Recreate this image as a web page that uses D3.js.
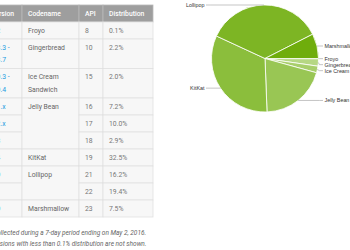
<!DOCTYPE html>
<html>
<head>
<meta charset="utf-8">
<script src="https://cdn.jsdelivr.net/npm/d3@7"></script>
<style>
  html, body { margin: 0; padding: 0; background: #fff; overflow: hidden; }
</style>
</head>
<body>
<div id="chart"></div>
<script>
// table data (one entry per row)
const versions = ["2.2", "2.3.3 -\n2.3.7", "4.0.3 -\n4.0.4", "4.1.x", "4.2.x", "4.3", "4.4", "5.0", "5.1", "6.0"];
const codenames = ["Froyo", "Gingerbread", "Ice Cream\nSandwich", "Jelly Bean", "Jelly Bean", "Jelly Bean",
                   "KitKat", "Lollipop", "Lollipop", "Marshmallow"];
const apis = [8, 10, 15, 16, 17, 18, 19, 21, 22, 23];
const distribution = [0.1, 2.2, 2.0, 7.2, 10.0, 2.9, 32.5, 16.2, 19.4, 7.5];
const headers = ["Version", "Codename", "API", "Distribution"];
const pieColors = ["#c4df9b", "#b6d783", "#a8ce6b", "#99c654", "#8bbe3c", "#7db524", "#6fad0c"];
const notes = ["Data collected during a 7-day period ending on May 2, 2016.",
               "Any versions with less than 0.1% distribution are not shown."];

const width = 350, height = 250;

const svg = d3.select("#chart").append("svg")
  .attr("width", width).attr("height", height);

// ---- table ----
const colX = [-15, 22, 79, 103, 153];
const headTop = 5, headH = 17, rowH = 17, lineH = 12.5;

const rows = versions.map((v, i) => ({
  version: v, codename: codenames[i], api: apis[i], dist: distribution[i],
  lines: Math.max(v.split("\n").length, codenames[i].split("\n").length)
}));
let y = headTop + headH;
rows.forEach(r => { r.y0 = y; r.h = rowH + lineH * (r.lines - 1); y += r.h; r.y1 = y; });

const table = svg.append("g").attr("font-family", "Roboto, 'Noto Sans', sans-serif").attr("font-size", 6.8);

// header
table.selectAll("rect.head").data(headers).join("rect")
  .attr("x", (d, i) => colX[i]).attr("y", headTop)
  .attr("width", (d, i) => colX[i + 1] - colX[i]).attr("height", headH)
  .attr("fill", "#9e9e9e").attr("stroke", "#b8b8b8").attr("stroke-width", 0.8);
table.selectAll("text.head").data(headers).join("text")
  .attr("x", (d, i) => colX[i] + 6).attr("y", headTop + headH / 2 + 2.4)
  .attr("fill", "#fff").attr("font-weight", 500).text(d => d);

// merged codename groups
const groups = [];
rows.forEach(r => {
  const last = groups[groups.length - 1];
  if (last && last.name === r.codename) { last.y1 = r.y1; }
  else groups.push({ name: r.codename, y0: r.y0, y1: r.y1 });
});

const cellFill = "#f7f7f7", cellStroke = "#e0e0e0";

function cellRects(data, col) {
  table.append("g").selectAll("rect").data(data).join("rect")
    .attr("x", colX[col]).attr("y", d => d.y0)
    .attr("width", colX[col + 1] - colX[col]).attr("height", d => d.y1 - d.y0)
    .attr("fill", cellFill).attr("stroke", cellStroke).attr("stroke-width", 0.8);
}
function cellText(data, col, fn, color) {
  const t = table.append("g").selectAll("text").data(data).join("text")
    .attr("x", colX[col] + 6).attr("y", d => d.y0 + 10.8)
    .attr("fill", color);
  t.selectAll("tspan").data(d => String(fn(d)).split("\n")).join("tspan")
    .attr("x", colX[col] + 6).attr("dy", (d, i) => i ? lineH : 0).text(d => d);
}

cellRects(rows, 0);
cellRects(groups, 1);
cellRects(rows, 2);
cellRects(rows, 3);
cellText(rows, 0, d => d.version, "#1e9be0");
cellText(groups, 1, d => d.name, "#666");
cellText(rows, 2, d => d.api, "#777");
cellText(rows, 3, d => d.dist.toFixed(1) + "%", "#777");

// footnotes
svg.append("g").selectAll("text").data(notes).join("text")
  .attr("x", -21).attr("y", (d, i) => 234.5 + i * 11)
  .attr("font-family", "Roboto, sans-serif").attr("font-size", 6.5)
  .attr("font-style", "italic").attr("fill", "#666").text(d => d);

// ---- pie ----
const pieData = d3.rollups(rows, v => d3.sum(v, d => d.dist), d => d.codename)
  .map(([name, value]) => ({ name: name.replace("\n", " "), value }));

const cx = 265, cy = 58.5, r = 53.5;
const pie = d3.pie().sort(null).value(d => d.value)
  .startAngle(Math.PI / 2).endAngle(Math.PI / 2 + 2 * Math.PI);
const arcs = pie(pieData);
const arc = d3.arc().innerRadius(0).outerRadius(r);
const color = d3.scaleOrdinal().domain(pieData.map(d => d.name)).range(pieColors);

const pg = svg.append("g").attr("transform", `translate(${cx},${cy})`);
pg.selectAll("path").data(arcs).join("path")
  .attr("d", arc).attr("fill", d => color(d.data.name))
  .attr("stroke", "#fff").attr("stroke-width", 0.8);

// labels
const labels = arcs.map(d => {
  const a = (d.startAngle + d.endAngle) / 2;
  const px = cx + r * Math.sin(a), py = cy - r * Math.cos(a);
  return { name: d.data.name, px, py, ly: py, right: Math.sin(a) > 0 };
});
[true, false].forEach(side => {
  const s = labels.filter(l => l.right === side).sort((a, b) => a.ly - b.ly);
  for (let i = 1; i < s.length; i++) s[i].ly = Math.max(s[i].ly, s[i - 1].ly + 6);
});

const lg = svg.append("g");
lg.selectAll("polyline").data(labels).join("polyline")
  .attr("points", d => {
    const ex = d.right ? cx + r + 1 : cx - r - 1;
    const tx = d.right ? 323 : 206;
    return `${d.px},${d.py} ${ex},${d.ly} ${tx},${d.ly}`;
  })
  .attr("fill", "none").attr("stroke", "#9e9e9e").attr("stroke-width", 0.6);
lg.selectAll("text").data(labels).join("text")
  .attr("x", d => d.right ? 324.5 : 204.5).attr("y", d => d.ly + 1.9)
  .attr("text-anchor", d => d.right ? "start" : "end")
  .attr("font-family", "Arial, 'Liberation Sans', sans-serif").attr("font-size", 5.4)
  .attr("fill", "#333").text(d => d.name);
</script>
</body>
</html>
